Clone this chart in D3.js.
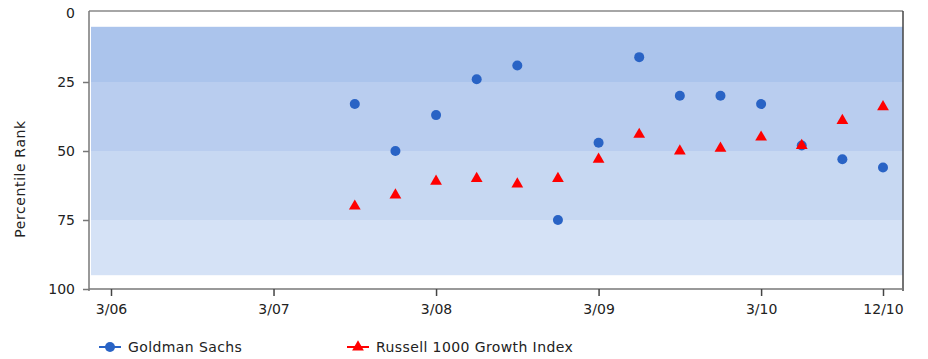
<!DOCTYPE html>
<html>
<head>
<meta charset="utf-8">
<script src="https://cdn.jsdelivr.net/npm/d3@7"></script>
<style>
  body { margin: 0; background: #fff; }
  text { font-family: "DejaVu Sans", sans-serif; fill: #222; }
</style>
</head>
<body>
<script>
/* CONSTANTS AND GLOBALS */
const width = 928;
const height = 359;
const margin = { top: 13, bottom: 70, left: 89, right: 25 };

/* DATA */
const quarters = ["3/06", "6/06", "9/06", "12/06", "3/07", "6/07", "9/07", "12/07",
  "3/08", "6/08", "9/08", "12/08", "3/09", "6/09", "9/09", "12/09",
  "3/10", "6/10", "9/10", "12/10"];
const tickLabels = ["3/06", "3/07", "3/08", "3/09", "3/10", "12/10"];
const goldman = [null, null, null, null, null, null, 33, 50, 37, 24, 19, 75, 47, 16, 30, 30, 33, 48, 53, 56];
const russell = [null, null, null, null, null, null, 70, 66, 61, 60, 62, 60, 53, 44, 50, 49, 45, 48, 39, 34];
const yTicks = [0, 25, 50, 75, 100];
const bandEdges = [5, 25, 50, 75, 95];
const bandColors = ["#abc4ec", "#b9cdef", "#c7d8f2", "#d5e2f6"];

//SCALES
const x = d3.scalePoint()
  .domain(quarters)
  .range([111, 883]);

const y = d3.scaleLinear()
  .domain([0, 100])
  .range([margin.top, height - margin.bottom]); // 0 on top, 100 at bottom

//CREATE SVG
const svg = d3.select("body").append("svg")
  .attr("width", width)
  .attr("height", height);

const plotLeft = margin.left;
const plotRight = width - margin.right;

//BACKGROUND BANDS
svg.selectAll(".band")
  .data(bandColors)
  .enter()
  .append("rect")
  .attr("class", "band")
  .attr("x", plotLeft + 2)
  .attr("width", plotRight - plotLeft - 2)
  .attr("y", (d, i) => y(bandEdges[i]))
  .attr("height", (d, i) => y(bandEdges[i + 1]) - y(bandEdges[i]))
  .attr("fill", d => d);

//FRAME
svg.append("line") // top
  .attr("x1", plotLeft).attr("x2", plotRight)
  .attr("y1", y(0) - 2).attr("y2", y(0) - 2)
  .attr("stroke", "#888").attr("stroke-width", 1.5);
svg.append("line") // right
  .attr("x1", plotRight).attr("x2", plotRight)
  .attr("y1", y(0) - 2).attr("y2", y(100) + 2)
  .attr("stroke", "#444").attr("stroke-width", 1.5);

//Y-AXIS
const yAxis = d3.axisLeft(y)
  .tickValues(yTicks)
  .tickSize(6)
  .tickSizeOuter(0)
  .tickPadding(8);

const gy = svg.append("g")
  .attr("transform", "translate(" + plotLeft + ",0)")
  .call(yAxis);
gy.select(".domain").attr("stroke", "#777").attr("stroke-width", 1.5)
  .attr("d", "M0," + (y(0) - 2) + "V" + (y(100) + 2));
gy.selectAll(".tick line").attr("stroke", "#777").attr("stroke-width", 1.5);
gy.selectAll(".tick").filter(d => d === 0).select("line").remove();
gy.selectAll(".tick text").attr("font-size", 14).attr("fill", "#222");

//X-AXIS
const xAxis = d3.axisBottom(x)
  .tickValues(tickLabels)
  .tickSize(7)
  .tickSizeOuter(0)
  .tickPadding(8);

const gx = svg.append("g")
  .attr("transform", "translate(0," + y(100) + ")")
  .call(xAxis);
gx.select(".domain").attr("stroke", "#777").attr("stroke-width", 1.5)
  .attr("d", "M" + plotLeft + ",0H" + plotRight);
gx.selectAll(".tick line").attr("stroke", "#444").attr("stroke-width", 1.5);
gx.selectAll(".tick text").attr("font-size", 14).attr("fill", "#222");

//Y LABEL
svg.append("text")
  .attr("transform", "translate(25," + (y(50) + 28) + ") rotate(-90)")
  .attr("text-anchor", "middle")
  .attr("font-size", 14)
  .attr("letter-spacing", 0.6)
  .text("Percentile Rank");

//POINTS
const gsData = quarters.map((q, i) => ({ q: q, v: goldman[i] })).filter(d => d.v !== null);
const ruData = quarters.map((q, i) => ({ q: q, v: russell[i] })).filter(d => d.v !== null);

svg.selectAll(".gs")
  .data(gsData)
  .enter()
  .append("circle")
  .attr("class", "gs")
  .attr("cx", d => x(d.q))
  .attr("cy", d => y(d.v))
  .attr("r", 5)
  .attr("fill", "#2963c5");

const tri = d3.symbol().type(d3.symbolTriangle).size(60);

svg.selectAll(".ru")
  .data(ruData)
  .enter()
  .append("path")
  .attr("class", "ru")
  .attr("d", tri)
  .attr("transform", d => "translate(" + x(d.q) + "," + y(d.v) + ")")
  .attr("fill", "#ff0000");

//LEGEND
const legend = [
  { name: "Goldman Sachs", color: "#2963c5", shape: "circle", x: 99 },
  { name: "Russell 1000 Growth Index", color: "#ff0000", shape: "triangle", x: 347 }
];
const ly = 347;
legend.forEach(l => {
  svg.append("line")
    .attr("x1", l.x).attr("x2", l.x + 22)
    .attr("y1", ly).attr("y2", ly)
    .attr("stroke", l.color).attr("stroke-width", 2);
  if (l.shape === "circle") {
    svg.append("circle").attr("cx", l.x + 11).attr("cy", ly).attr("r", 5).attr("fill", l.color);
  } else {
    svg.append("path").attr("d", tri).attr("transform", "translate(" + (l.x + 11) + "," + ly + ")").attr("fill", l.color);
  }
  svg.append("text")
    .attr("x", l.x + 29)
    .attr("y", ly + 5)
    .attr("font-size", 14)
    .attr("letter-spacing", 0.4)
    .text(l.name);
});
</script>
</body>
</html>
